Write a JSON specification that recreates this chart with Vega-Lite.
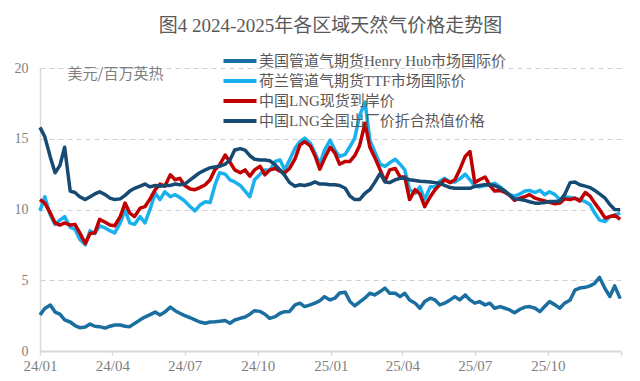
{
  "$schema": "https://vega.github.io/schema/vega-lite/v6.json",
  "width": 581,
  "height": 283,
  "autosize": {"type": "none"},
  "padding": {"left": 40, "top": 68, "right": 19, "bottom": 30},
  "background": "white",
  "title": {"text": "图4 2024-2025年各区域天然气价格走势图", "anchor": "middle", "font": "Liberation Serif, Noto Sans CJK SC", "fontSize": 19, "fontWeight": "normal", "color": "#595959", "offset": 13},
  "data": {"values": [
    {"d":"2024-01-01T00:00","hh":2.55,"ttf":9.9,"sp":10.7,"ex":15.8},
    {"d":"2024-01-07T00:00","hh":3.0,"ttf":10.9,"sp":10.45,"ex":15.15},
    {"d":"2024-01-14T00:00","hh":3.25,"ttf":9.6,"sp":9.75,"ex":13.7},
    {"d":"2024-01-20T00:00","hh":2.75,"ttf":8.95,"sp":9.05,"ex":12.6},
    {"d":"2024-01-26T00:00","hh":2.6,"ttf":9.25,"sp":8.9,"ex":13.1},
    {"d":"2024-02-01T00:00","hh":2.2,"ttf":9.5,"sp":9.05,"ex":14.4},
    {"d":"2024-02-08T00:00","hh":2.05,"ttf":8.75,"sp":8.9,"ex":11.3},
    {"d":"2024-02-14T00:00","hh":1.8,"ttf":8.6,"sp":8.95,"ex":11.2},
    {"d":"2024-02-20T00:00","hh":1.65,"ttf":7.9,"sp":8.35,"ex":10.9},
    {"d":"2024-02-27T00:00","hh":1.7,"ttf":7.5,"sp":7.6,"ex":10.7},
    {"d":"2024-03-04T00:00","hh":1.9,"ttf":8.5,"sp":8.3,"ex":10.9},
    {"d":"2024-03-10T00:00","hh":1.75,"ttf":8.3,"sp":8.35,"ex":11.1},
    {"d":"2024-03-16T00:00","hh":1.72,"ttf":8.85,"sp":9.3,"ex":11.25},
    {"d":"2024-03-23T00:00","hh":1.62,"ttf":8.7,"sp":9.1,"ex":11.05},
    {"d":"2024-03-29T00:00","hh":1.75,"ttf":8.5,"sp":8.9,"ex":10.8},
    {"d":"2024-04-04T00:00","hh":1.84,"ttf":8.35,"sp":8.85,"ex":10.7},
    {"d":"2024-04-11T00:00","hh":1.84,"ttf":9.05,"sp":9.5,"ex":10.75},
    {"d":"2024-04-17T00:00","hh":1.75,"ttf":9.95,"sp":10.45,"ex":11.0},
    {"d":"2024-04-23T00:00","hh":1.72,"ttf":9.05,"sp":9.75,"ex":11.3},
    {"d":"2024-04-29T00:00","hh":1.95,"ttf":8.95,"sp":9.5,"ex":11.5},
    {"d":"2024-05-06T00:00","hh":2.2,"ttf":9.5,"sp":10.1,"ex":11.65},
    {"d":"2024-05-12T00:00","hh":2.4,"ttf":9.05,"sp":10.2,"ex":11.8},
    {"d":"2024-05-18T00:00","hh":2.55,"ttf":9.95,"sp":10.7,"ex":11.6},
    {"d":"2024-05-25T00:00","hh":2.75,"ttf":11.15,"sp":11.4,"ex":11.7},
    {"d":"2024-05-31T00:00","hh":2.55,"ttf":10.7,"sp":11.8,"ex":11.65},
    {"d":"2024-06-06T00:00","hh":2.75,"ttf":11.25,"sp":11.65,"ex":11.7},
    {"d":"2024-06-13T00:00","hh":3.1,"ttf":10.9,"sp":12.45,"ex":11.7},
    {"d":"2024-06-19T00:00","hh":2.85,"ttf":11.05,"sp":12.1,"ex":11.8},
    {"d":"2024-06-25T00:00","hh":2.67,"ttf":10.85,"sp":12.2,"ex":11.75},
    {"d":"2024-07-01T00:00","hh":2.5,"ttf":10.6,"sp":11.7,"ex":11.8},
    {"d":"2024-07-08T00:00","hh":2.35,"ttf":10.2,"sp":11.45,"ex":12.1},
    {"d":"2024-07-14T00:00","hh":2.2,"ttf":9.9,"sp":11.4,"ex":12.35},
    {"d":"2024-07-20T00:00","hh":2.05,"ttf":10.3,"sp":11.55,"ex":12.6},
    {"d":"2024-07-27T00:00","hh":1.96,"ttf":10.55,"sp":11.75,"ex":12.8},
    {"d":"2024-08-02T00:00","hh":2.05,"ttf":10.5,"sp":12.1,"ex":12.95},
    {"d":"2024-08-08T00:00","hh":2.07,"ttf":11.7,"sp":12.8,"ex":13.0},
    {"d":"2024-08-14T00:00","hh":2.1,"ttf":12.6,"sp":13.15,"ex":13.05},
    {"d":"2024-08-21T00:00","hh":2.15,"ttf":12.5,"sp":13.85,"ex":13.2},
    {"d":"2024-08-27T00:00","hh":1.96,"ttf":12.1,"sp":13.35,"ex":13.5},
    {"d":"2024-09-02T00:00","hh":2.19,"ttf":11.95,"sp":12.8,"ex":14.2},
    {"d":"2024-09-09T00:00","hh":2.31,"ttf":11.7,"sp":12.6,"ex":14.3},
    {"d":"2024-09-15T00:00","hh":2.4,"ttf":11.3,"sp":12.8,"ex":14.2},
    {"d":"2024-09-21T00:00","hh":2.6,"ttf":10.9,"sp":12.35,"ex":13.8},
    {"d":"2024-09-27T00:00","hh":2.85,"ttf":12.1,"sp":12.8,"ex":13.55},
    {"d":"2024-10-04T00:00","hh":2.8,"ttf":12.5,"sp":13.05,"ex":13.5},
    {"d":"2024-10-10T00:00","hh":2.6,"ttf":12.8,"sp":12.45,"ex":13.5},
    {"d":"2024-10-16T00:00","hh":2.31,"ttf":12.75,"sp":12.8,"ex":13.45},
    {"d":"2024-10-23T00:00","hh":2.43,"ttf":13.4,"sp":12.9,"ex":13.15},
    {"d":"2024-10-29T00:00","hh":2.67,"ttf":13.5,"sp":12.7,"ex":12.8},
    {"d":"2024-11-04T00:00","hh":2.78,"ttf":12.8,"sp":12.6,"ex":12.4},
    {"d":"2024-11-10T00:00","hh":2.8,"ttf":13.5,"sp":12.9,"ex":11.9},
    {"d":"2024-11-17T00:00","hh":3.26,"ttf":14.35,"sp":13.6,"ex":11.65},
    {"d":"2024-11-23T00:00","hh":3.38,"ttf":14.8,"sp":14.55,"ex":11.75},
    {"d":"2024-11-29T00:00","hh":3.14,"ttf":15.05,"sp":14.8,"ex":11.7},
    {"d":"2024-12-06T00:00","hh":3.26,"ttf":14.7,"sp":14.5,"ex":11.8},
    {"d":"2024-12-12T00:00","hh":3.38,"ttf":14.0,"sp":13.8,"ex":11.95},
    {"d":"2024-12-18T00:00","hh":3.55,"ttf":13.2,"sp":12.85,"ex":11.8},
    {"d":"2024-12-24T00:00","hh":3.84,"ttf":14.2,"sp":13.6,"ex":11.8},
    {"d":"2024-12-31T00:00","hh":3.61,"ttf":14.9,"sp":14.4,"ex":11.75},
    {"d":"2025-01-06T00:00","hh":3.73,"ttf":14.2,"sp":14.0,"ex":11.75},
    {"d":"2025-01-12T00:00","hh":4.1,"ttf":13.75,"sp":13.2,"ex":11.7},
    {"d":"2025-01-19T00:00","hh":4.15,"ttf":13.9,"sp":13.4,"ex":11.5},
    {"d":"2025-01-25T00:00","hh":3.5,"ttf":14.45,"sp":13.4,"ex":10.95},
    {"d":"2025-01-31T00:00","hh":3.2,"ttf":15.05,"sp":13.8,"ex":10.7},
    {"d":"2025-02-06T00:00","hh":3.45,"ttf":16.6,"sp":14.5,"ex":10.7},
    {"d":"2025-02-13T00:00","hh":3.75,"ttf":17.6,"sp":16.1,"ex":11.15},
    {"d":"2025-02-19T00:00","hh":4.08,"ttf":14.9,"sp":14.4,"ex":11.4},
    {"d":"2025-02-25T00:00","hh":3.96,"ttf":14.1,"sp":13.7,"ex":11.9},
    {"d":"2025-03-04T00:00","hh":4.2,"ttf":13.2,"sp":12.8,"ex":12.55},
    {"d":"2025-03-10T00:00","hh":4.44,"ttf":13.05,"sp":12.0,"ex":11.95},
    {"d":"2025-03-16T00:00","hh":4.08,"ttf":13.3,"sp":12.8,"ex":11.9},
    {"d":"2025-03-23T00:00","hh":4.08,"ttf":13.55,"sp":12.9,"ex":12.1},
    {"d":"2025-03-29T00:00","hh":3.84,"ttf":13.2,"sp":12.3,"ex":12.2},
    {"d":"2025-04-04T00:00","hh":4.08,"ttf":12.8,"sp":12.3,"ex":12.2},
    {"d":"2025-04-10T00:00","hh":3.61,"ttf":11.4,"sp":10.7,"ex":12.1},
    {"d":"2025-04-17T00:00","hh":3.38,"ttf":11.15,"sp":11.4,"ex":12.05},
    {"d":"2025-04-23T00:00","hh":3.02,"ttf":11.6,"sp":11.1,"ex":12.0},
    {"d":"2025-04-29T00:00","hh":3.49,"ttf":10.7,"sp":10.2,"ex":11.98},
    {"d":"2025-05-06T00:00","hh":3.73,"ttf":11.6,"sp":10.9,"ex":11.95},
    {"d":"2025-05-12T00:00","hh":3.61,"ttf":11.6,"sp":11.4,"ex":11.9},
    {"d":"2025-05-18T00:00","hh":3.26,"ttf":12.0,"sp":11.75,"ex":11.85},
    {"d":"2025-05-24T00:00","hh":3.38,"ttf":12.2,"sp":12.1,"ex":11.7},
    {"d":"2025-05-31T00:00","hh":3.61,"ttf":11.95,"sp":11.9,"ex":11.55},
    {"d":"2025-06-06T00:00","hh":3.84,"ttf":11.95,"sp":12.1,"ex":11.5},
    {"d":"2025-06-12T00:00","hh":3.61,"ttf":12.15,"sp":12.8,"ex":11.5},
    {"d":"2025-06-19T00:00","hh":3.96,"ttf":12.5,"sp":13.75,"ex":11.5},
    {"d":"2025-06-25T00:00","hh":3.61,"ttf":12.1,"sp":14.1,"ex":11.5},
    {"d":"2025-07-01T00:00","hh":3.38,"ttf":11.65,"sp":11.9,"ex":11.63},
    {"d":"2025-07-07T00:00","hh":3.49,"ttf":11.6,"sp":12.1,"ex":11.7},
    {"d":"2025-07-14T00:00","hh":3.26,"ttf":11.7,"sp":12.3,"ex":11.75},
    {"d":"2025-07-20T00:00","hh":3.38,"ttf":11.75,"sp":11.7,"ex":11.75},
    {"d":"2025-07-26T00:00","hh":3.02,"ttf":11.85,"sp":11.3,"ex":11.7},
    {"d":"2025-08-02T00:00","hh":3.14,"ttf":11.6,"sp":11.35,"ex":11.5},
    {"d":"2025-08-08T00:00","hh":3.02,"ttf":11.3,"sp":11.2,"ex":11.3},
    {"d":"2025-08-14T00:00","hh":2.9,"ttf":11.05,"sp":11.0,"ex":11.0},
    {"d":"2025-08-20T00:00","hh":2.7,"ttf":10.95,"sp":10.65,"ex":10.75},
    {"d":"2025-08-27T00:00","hh":2.95,"ttf":11.1,"sp":10.8,"ex":10.7},
    {"d":"2025-09-02T00:00","hh":3.1,"ttf":11.3,"sp":10.9,"ex":10.65},
    {"d":"2025-09-08T00:00","hh":3.14,"ttf":11.35,"sp":11.05,"ex":10.55},
    {"d":"2025-09-15T00:00","hh":3.02,"ttf":11.2,"sp":10.8,"ex":10.45},
    {"d":"2025-09-21T00:00","hh":2.78,"ttf":11.35,"sp":10.7,"ex":10.45},
    {"d":"2025-09-27T00:00","hh":3.14,"ttf":11.05,"sp":10.6,"ex":10.5},
    {"d":"2025-10-03T00:00","hh":3.49,"ttf":11.25,"sp":10.5,"ex":10.57},
    {"d":"2025-10-10T00:00","hh":3.26,"ttf":11.05,"sp":10.4,"ex":10.57},
    {"d":"2025-10-16T00:00","hh":3.02,"ttf":10.7,"sp":10.45,"ex":10.6},
    {"d":"2025-10-22T00:00","hh":3.38,"ttf":10.9,"sp":10.75,"ex":11.05},
    {"d":"2025-10-29T00:00","hh":3.61,"ttf":10.85,"sp":10.7,"ex":11.9},
    {"d":"2025-11-04T00:00","hh":4.3,"ttf":10.8,"sp":10.8,"ex":11.95},
    {"d":"2025-11-10T00:00","hh":4.45,"ttf":10.7,"sp":10.6,"ex":11.75},
    {"d":"2025-11-17T00:00","hh":4.5,"ttf":10.55,"sp":11.2,"ex":11.65},
    {"d":"2025-11-23T00:00","hh":4.6,"ttf":10.35,"sp":10.95,"ex":11.55},
    {"d":"2025-11-29T00:00","hh":4.79,"ttf":9.75,"sp":10.45,"ex":11.35},
    {"d":"2025-12-05T00:00","hh":5.2,"ttf":9.25,"sp":10.0,"ex":11.1},
    {"d":"2025-12-12T00:00","hh":4.4,"ttf":9.15,"sp":9.4,"ex":10.8},
    {"d":"2025-12-18T00:00","hh":3.85,"ttf":9.5,"sp":9.5,"ex":10.35},
    {"d":"2025-12-24T00:00","hh":4.6,"ttf":9.6,"sp":9.6,"ex":10.0},
    {"d":"2025-12-31T00:00","hh":3.7,"ttf":9.75,"sp":9.3,"ex":9.98}
  ]},
  "transform": [{"fold": ["hh", "ttf", "sp", "ex"], "as": ["s", "v"]}],
  "mark": {"type": "line", "strokeWidth": 3.5, "strokeJoin": "round"},
  "encoding": {
    "x": {
      "field": "d", "type": "temporal",
      "scale": {"domain": [{"year": 2024, "month": 1, "date": 1}, {"year": 2026, "month": 1, "date": 1}]},
      "axis": {
        "values": [
          {"year": 2024, "month": 1, "date": 1}, {"year": 2024, "month": 4, "date": 1},
          {"year": 2024, "month": 7, "date": 1}, {"year": 2024, "month": 10, "date": 1},
          {"year": 2025, "month": 1, "date": 1}, {"year": 2025, "month": 4, "date": 1},
          {"year": 2025, "month": 7, "date": 1}, {"year": 2025, "month": 10, "date": 1},
          {"year": 2026, "month": 1, "date": 1}
        ],
        "format": "%y/%m",
        "labelExpr": "year(datum.value) >= 2026 ? '' : datum.label",
        "title": null, "grid": false,
        "domainColor": "#d9d9d9", "domainWidth": 2,
        "tickColor": "#d9d9d9", "tickSize": 4, "tickWidth": 1.5,
        "labelPadding": 3, "labelFont": "Liberation Serif", "labelFontSize": 15, "labelColor": "#7f7f7f", "labelFlush": false, "labelOverlap": false
      }
    },
    "y": {
      "field": "v", "type": "quantitative",
      "scale": {"domain": [0, 20], "nice": false},
      "axis": {
        "values": [0, 5, 10, 15, 20],
        "grid": true, "gridDash": [5, 4], "gridColor": "#d0d0d0", "gridWidth": 1,
        "domain": true, "domainColor": "#d9d9d9", "domainWidth": 1.5,
        "ticks": false, "tickSize": 0, "labelPadding": 12,
        "labelFont": "Liberation Serif", "labelFontSize": 14, "labelColor": "#7f7f7f",
        "title": "美元/百万英热", "titleAngle": 0, "titleX": 75, "titleY": 5,
        "titleAlign": "center", "titleBaseline": "middle",
        "titleFont": "Noto Sans CJK SC", "titleFontSize": 15, "titleFontWeight": "normal", "titleColor": "#7f7f7f"
      }
    },
    "color": {
      "field": "s", "type": "nominal",
      "scale": {"domain": ["hh", "ttf", "sp", "ex"], "range": ["#1b6ea0", "#19b0ee", "#c00000", "#164a72"]},
      "legend": {
        "orient": "none", "legendX": 188, "legendY": -19, "direction": "vertical",
        "title": null, "symbolType": "M-1.65,0H1.65", "symbolSize": 400, "symbolStrokeWidth": 4, "symbolFillColor": "transparent",
        "labelExpr": "{'hh':'美国管道气期货Henry Hub市场国际价','ttf':'荷兰管道气期货TTF市场国际价','sp':'中国LNG现货到岸价','ex':'中国LNG全国出厂价折合热值价格'}[datum.label]",
        "labelFont": "Liberation Serif, Noto Sans CJK SC", "labelFontSize": 15, "labelColor": "#595959", "labelLimit": 400, "labelOffset": 7,
        "rowPadding": 0
      }
    }
  },
  "config": {"view": {"stroke": null}}
}
